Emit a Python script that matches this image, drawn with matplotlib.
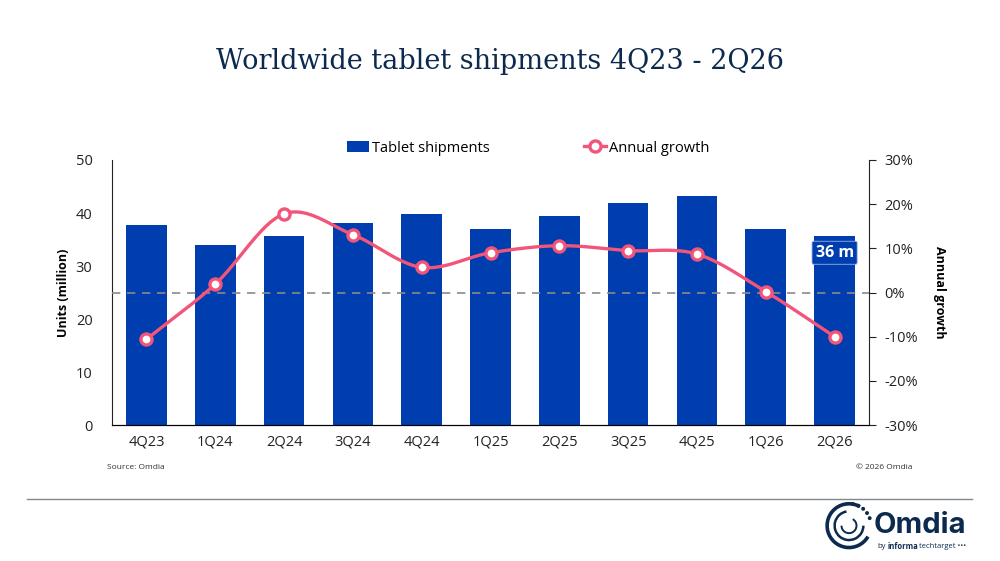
import numpy as np
import matplotlib
matplotlib.use('Agg')
import matplotlib.pyplot as plt
from matplotlib.lines import Line2D
from matplotlib.patches import Patch, Arc, Circle
from matplotlib.ticker import FuncFormatter

plt.rcParams['font.family'] = ['Open Sans', 'DejaVu Sans']

# data
quarters = ['4Q23', '1Q24', '2Q24', '3Q24', '4Q24', '1Q25', '2Q25', '3Q25', '4Q25', '1Q26', '2Q26']
shipments = [37.7, 33.9, 35.7, 38.2, 39.8, 37.0, 39.4, 41.8, 43.3, 37.0, 35.6]
growth = [-10.6, 1.9, 17.8, 13.1, 5.7, 9.0, 10.6, 9.5, 8.7, 0.2, -10.0]
last_label = '36 m'

BLUE = '#003DAE'
PINK = '#F2557A'
NAVY = '#0B2A4E'


def smooth(xs, ys, n=24):
    # Catmull-Rom curve through the points, like a spreadsheet "smoothed line"
    p = np.column_stack([xs, ys]).astype(float)
    p = np.vstack([p[0] - (p[1] - p[0]), p, p[-1] + (p[-1] - p[-2])])
    out = []
    for i in range(1, len(p) - 2):
        p0, p1, p2, p3 = p[i - 1], p[i], p[i + 1], p[i + 2]
        for t in np.linspace(0, 1, n, endpoint=False):
            out.append(0.5 * (2 * p1 + (-p0 + p2) * t
                              + (2 * p0 - 5 * p1 + 4 * p2 - p3) * t ** 2
                              + (-p0 + 3 * p1 - 3 * p2 + p3) * t ** 3))
    out.append(p[-2])
    out = np.array(out)
    return out[:, 0], out[:, 1]


fig = plt.figure(figsize=(10, 5.61), dpi=100)
ax = fig.add_axes([0.112, 0.2424, 0.757, 0.4724])
ax2 = ax.twinx()

x = np.arange(len(quarters))
ax.bar(x, shipments, width=0.59, color=BLUE, zorder=2)
ax.set_xlim(-0.5, len(quarters) - 0.5)
ax.set_ylim(0, 50)
ax.set_yticks(range(0, 51, 10))
ax.set_xticks(x)
ax.set_xticklabels(quarters)
ax.tick_params(axis='both', length=0, labelsize=10.5, colors='#222222', pad=7)
ax.tick_params(axis='y', pad=14)
ax.set_ylabel('Units (million)', fontsize=9, fontweight='bold', labelpad=4)
for s in ['top', 'right']:
    ax.spines[s].set_visible(False)
ax.spines['left'].set_color('#222222')
ax.spines['bottom'].set_color('#222222')

ax.text(x[-1], 32.5, last_label, ha='center', va='center', fontsize=11.5,
        fontweight='bold', color='white', zorder=5,
        bbox=dict(boxstyle='round,pad=0.22,rounding_size=0.1', facecolor=BLUE,
                  edgecolor='#9DB4E6', linewidth=0.6))

sx, sy = smooth(x, growth)
ax2.plot(sx, sy, color=PINK, linewidth=2.4, zorder=3, solid_capstyle='round')
ax2.plot(x, growth, linestyle='none', marker='o', markersize=8, markerfacecolor='white',
         markeredgecolor=PINK, markeredgewidth=2.4, zorder=4)
ax2.axhline(0, color='#8A8A8A', linestyle=(0, (5, 4)), linewidth=1.2, zorder=1)
ax2.set_ylim(-30, 30)
ax2.set_yticks(range(-30, 31, 10))
ax2.yaxis.set_major_formatter(FuncFormatter(lambda v, p: f'{v:.0f}%'))
ax2.tick_params(axis='y', length=5, direction='out', labelsize=10.5, colors='#222222', pad=6)
ax2.set_ylabel('Annual growth', fontsize=9, fontweight='bold', rotation=270, labelpad=20)
ax2.spines['top'].set_visible(False)
ax2.spines['left'].set_visible(False)
ax2.spines['right'].set_color('#222222')

handles = [Patch(facecolor=BLUE, label='Tablet shipments'),
           Line2D([0], [0], color=PINK, linewidth=2.4, marker='o', markersize=8,
                  markerfacecolor='white', markeredgecolor=PINK, markeredgewidth=2.4,
                  label='Annual growth')]
fig.legend(handles=handles, loc='center', bbox_to_anchor=(0.528, 0.736), ncol=2,
           frameon=False, fontsize=10.5, columnspacing=6.5, handlelength=1.5,
           handletextpad=0.2)

fig.text(0.5, 0.89, 'Worldwide tablet shipments 4Q23 - 2Q26', ha='center', va='center',
         fontsize=19.5, color=NAVY, family=['DejaVu Serif'])

fig.text(0.107, 0.167, 'Source: Omdia', fontsize=6, color='#333333', va='center')
fig.text(0.912, 0.167, '\u00a9 2026 Omdia', fontsize=6, color='#333333', va='center', ha='right')

fig.add_artist(Line2D([0.027, 0.972], [0.111, 0.111], color='#808890', linewidth=1.0))

# logo
lax = fig.add_axes([0.824, 0.018, 0.05, 0.09])
lax.set_xlim(-1, 1)
lax.set_ylim(-1, 1)
lax.set_aspect('equal')
lax.axis('off')
lax.add_patch(Arc((0, 0), 1.75, 1.75, theta1=60, theta2=330, color=NAVY, linewidth=2.6))
lax.add_patch(Arc((0, 0), 1.15, 1.15, theta1=100, theta2=360, color=NAVY, linewidth=1.8))
lax.add_patch(Arc((0, 0), 0.6, 0.6, theta1=180, theta2=420, color=NAVY, linewidth=1.4))
for a in np.linspace(20, 80, 5):
    r = 0.88
    lax.add_patch(Circle((r * np.cos(np.radians(a)), r * np.sin(np.radians(a))), 0.05, color=NAVY))
fig.text(0.874, 0.064, 'Omdia', fontsize=21, fontweight='bold', color=NAVY, va='center',
         family=['Inter', 'DejaVu Sans'])
fig.text(0.877, 0.026, 'by', fontsize=5.5, color=NAVY, va='center')
fig.text(0.888, 0.026, 'informa', fontsize=5.5, fontweight='bold', color=NAVY, va='center')
fig.text(0.919, 0.026, 'techtarget \u2022\u2022\u2022', fontsize=5.5, color=NAVY, va='center')

fig.savefig('out.png', dpi=100, facecolor='white')
